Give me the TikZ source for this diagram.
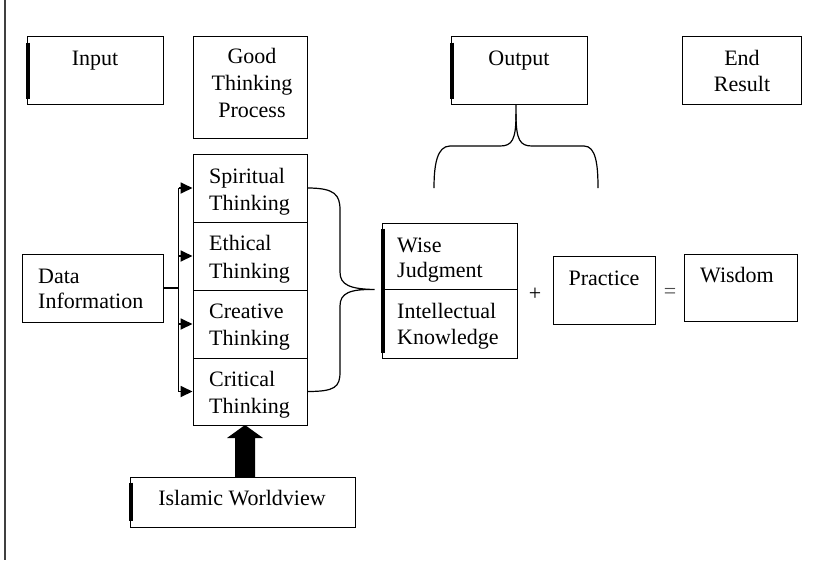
\documentclass[tikz,border=0pt]{standalone}
\usepackage{fontspec}
\setmainfont{Liberation Serif}
\usetikzlibrary{arrows.meta,calc}
\begin{document}
\begin{tikzpicture}[x=1pt,y=-1pt,
  box/.style={draw=black,line width=1pt,inner sep=0pt},
  txt/.style={inner sep=0pt,font=\fontsize{22}{26}\selectfont},
  bar/.style={line width=3.2pt},
  conn/.style={line width=1.8pt},
  tipped/.style={-{Triangle[length=12pt 0 0,width=11pt 0 0]}},
  bracestyle/.style={line width=1.2pt}]
\useasboundingbox (0,0) rectangle (818,560);
\draw[line width=1.3pt,black!75] (5,0) -- (5,560);
% header boxes
\node[box,minimum width=136pt,minimum height=68pt] (input) at (95,70) {};
\node[box,minimum width=114pt,minimum height=102pt] (gtp) at (250,87) {};
\node[box,minimum width=136pt,minimum height=68pt] (output) at (519,70) {};
\node[box,minimum width=119pt,minimum height=68pt] (endr) at (741.5,70) {};
\node[txt,anchor=base] at (95,65) {Input};
\node[txt,anchor=base] at (252,63) {Good};
\node[txt,anchor=base] at (252,90) {Thinking};
\node[txt,anchor=base] at (252,117) {Process};
\node[txt,anchor=base] at (519,65) {Output};
\node[txt,anchor=base] at (742,65) {End};
\node[txt,anchor=base] at (742,91) {Result};
\draw[bar] ($(input.north west)+(1.5,7)$) -- ($(input.south west)+(1.5,-6)$);
\draw[bar] ($(output.north west)+(1.5,7)$) -- ($(output.south west)+(1.5,-6)$);
% main row
\node[box,minimum width=141pt,minimum height=68pt] (data) at (92.5,288) {};
\node[box,minimum width=114pt,minimum height=68pt] (sp) at (250,188) {};
\node[box,minimum width=114pt,minimum height=68pt] (et) at (250,256) {};
\node[box,minimum width=114pt,minimum height=68pt] (cr) at (250,324) {};
\node[box,minimum width=114pt,minimum height=67pt] (ct) at (250,391.5) {};
\node[box,minimum width=135pt,minimum height=66pt] (wj) at (449.5,256) {};
\node[box,minimum width=135pt,minimum height=69pt] (ik) at (449.5,323.5) {};
\node[box,minimum width=102pt,minimum height=68pt] (pr) at (604,290) {};
\node[box,minimum width=113pt,minimum height=67pt] (wis) at (740.5,287.5) {};
\node[box,minimum width=225pt,minimum height=50pt] (isl) at (242.5,502) {};
\draw[bar] ($(wj.north west)+(1.5,6)$) -- ($(ik.south west)+(1.5,-6)$);
\draw[bar] ($(isl.north west)+(1.5,6)$) -- ($(isl.south west)+(1.5,-7)$);
% texts
\node[txt,anchor=base west] at (38,283) {Data};
\node[txt,anchor=base west] at (38,308) {Information};
\node[txt,anchor=base west] at (209,183) {Spiritual};
\node[txt,anchor=base west] at (209,210) {Thinking};
\node[txt,anchor=base west] at (209,250) {Ethical};
\node[txt,anchor=base west] at (209,278) {Thinking};
\node[txt,anchor=base west] at (209,318) {Creative};
\node[txt,anchor=base west] at (209,345) {Thinking};
\node[txt,anchor=base west] at (209,386) {Critical};
\node[txt,anchor=base west] at (209,413) {Thinking};
\node[txt,anchor=base west] at (397,252) {Wise};
\node[txt,anchor=base west] at (397,277) {Judgment};
\node[txt,anchor=base west] at (397,318) {Intellectual};
\node[txt,anchor=base west] at (397,344) {Knowledge};
\node[txt,anchor=base] at (604,285) {Practice};
\node[txt,anchor=base] at (737,282) {Wisdom};
\node[txt,anchor=base] at (242,505) {Islamic Worldview};
\node[txt] (plus) at (535,294) {+};
\node[txt,text=black!70] (eq) at (670,293) {=};
% arrows from data
\coordinate (split) at ($(data.east)+(15,0)$);
\draw[conn] (data.east) -- (split);
\draw[conn] (split |- sp.west) -- (split |- ct.west);
\foreach \n in {sp,et,cr,ct} \draw[conn,tipped] (split |- \n.west) -- (\n.west);
% right brace
\coordinate (tipR) at ($(wj.south west)+(-7,0)$);
\draw[bracestyle] (sp.east) .. controls (335,188) and (340,195) .. (340,210) -- (340,272)
  .. controls (340,285) and (350,289) .. (tipR)
  .. controls (350,289) and (340,293) .. (340,306) -- (340,372)
  .. controls (340,387) and (335,391.5) .. (ct.east);
% top brace
\coordinate (ob) at (516,104);
\draw[bracestyle] (ob) -- (516,114) .. controls (516,140) and (512,146) .. (500,146) -- (450,146)
  .. controls (437,146) and (434,165) .. (434,188);
\draw[bracestyle] (516,114) .. controls (516,140) and (520,146) .. (532,146) -- (584,146)
  .. controls (596,146) and (598,165) .. (598,188);
% big arrow
\coordinate (ah) at (245,425);
\fill (ah) -- ++(18,13) -- ++(-8,0) -- ++(0,39) -- ++(-20,0) -- ++(0,-39) -- ++(-8,0) -- cycle;
\end{tikzpicture}
\end{document}
